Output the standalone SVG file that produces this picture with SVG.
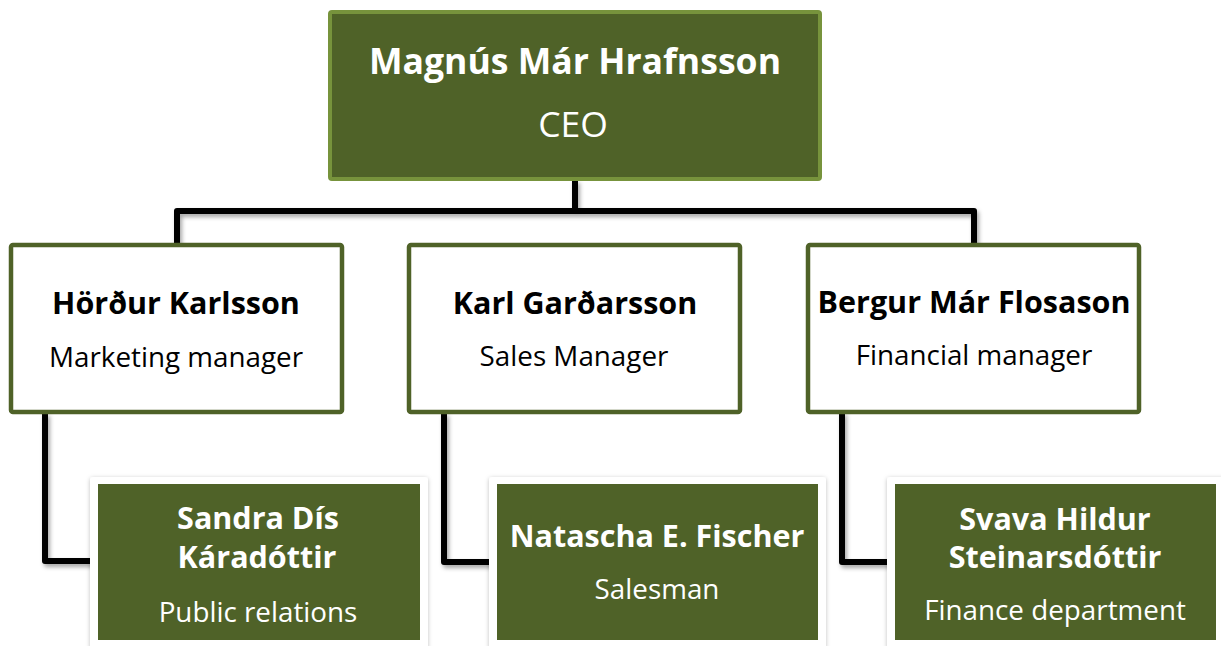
<svg xmlns="http://www.w3.org/2000/svg" width="1221" height="646" viewBox="0 0 1221 646">
  <defs>
    <filter id="sh" x="-10%" y="-10%" width="130%" height="130%">
      <feDropShadow dx="2" dy="3" stdDeviation="2" flood-color="#000" flood-opacity="0.35"/>
    </filter>
    <filter id="sh2" x="-10%" y="-10%" width="120%" height="120%">
      <feDropShadow dx="0" dy="1" stdDeviation="2" flood-color="#000" flood-opacity="0.25"/>
    </filter>
  </defs>
  <style>
    .conn { fill: none; stroke: #000; stroke-width: 6; stroke-linejoin: round; stroke-linecap: butt; }
    .ceo { fill: #4F6228; stroke: #77933C; stroke-width: 4; }
    .mgr { fill: #fff; stroke: #4F6228; stroke-width: 4.5; }
    .outer { fill: #fff; }
    .inner { fill: #4F6228; }
    text { font-family: "Open Sans", "Liberation Sans", sans-serif; text-anchor: middle; }
    .bw { font-weight: bold; fill: #fff; font-size: 30.5px; }
    .rw { fill: #fff; font-size: 27.8px; }
    .bk { font-weight: bold; fill: #000; font-size: 30.5px; }
    .rk { fill: #000; font-size: 27.8px; }
  </style>
  <rect width="1221" height="646" fill="#fff"/>
  <g id="connectors" filter="url(#sh)">
    <path class="conn" d="M575,180 V211"/>
    <path class="conn" d="M177,244 V211 H974 V244"/>
    <path class="conn" d="M45,413 V561 H95"/>
    <path class="conn" d="M444,413 V562 H494"/>
    <path class="conn" d="M842,412 V562 H892"/>
  </g>
  <g id="ceo">
    <rect class="ceo" x="330" y="12" width="490" height="167" rx="2"/>
    <text class="bw" x="575" y="74" style="font-size:35.6px">Magnús Már Hrafnsson</text>
    <text class="rw" x="573" y="137" style="font-size:35.5px">CEO</text>
  </g>
  <g id="mgr-hordur">
    <rect class="mgr" x="11" y="245" width="331" height="167" rx="2"/>
    <text class="bk" x="176" y="314">Hörður Karlsson</text>
    <text class="rk" x="176" y="367">Marketing manager</text>
  </g>
  <g id="mgr-karl">
    <rect class="mgr" x="409" y="245" width="331" height="167" rx="2"/>
    <text class="bk" x="575" y="314">Karl Garðarsson</text>
    <text class="rk" x="574" y="366">Sales Manager</text>
  </g>
  <g id="mgr-bergur">
    <rect class="mgr" x="808" y="245" width="331" height="167" rx="2"/>
    <text class="bk" x="974" y="313">Bergur Már Flosason</text>
    <text class="rk" x="974" y="365">Financial manager</text>
  </g>
  <g id="staff-sandra">
    <rect class="outer" x="90" y="477" width="338" height="172" rx="3" filter="url(#sh2)"/>
    <rect class="inner" x="98" y="484" width="322" height="156"/>
    <text class="bw" x="258" y="529">Sandra Dís</text>
    <text class="bw" x="257" y="568">Káradóttir</text>
    <text class="rw" x="258" y="622">Public relations</text>
  </g>
  <g id="staff-natascha">
    <rect class="outer" x="489" y="477" width="337" height="172" rx="3" filter="url(#sh2)"/>
    <rect class="inner" x="497" y="484" width="321" height="156"/>
    <text class="bw" x="657" y="547">Natascha E. Fischer</text>
    <text class="rw" x="657" y="599">Salesman</text>
  </g>
  <g id="staff-svava">
    <rect class="outer" x="887" y="477" width="338" height="172" rx="3" filter="url(#sh2)"/>
    <rect class="inner" x="895" y="484" width="321" height="156"/>
    <text class="bw" x="1055" y="530">Svava Hildur</text>
    <text class="bw" x="1055" y="568">Steinarsdóttir</text>
    <text class="rw" x="1055" y="620">Finance department</text>
  </g>
</svg>
